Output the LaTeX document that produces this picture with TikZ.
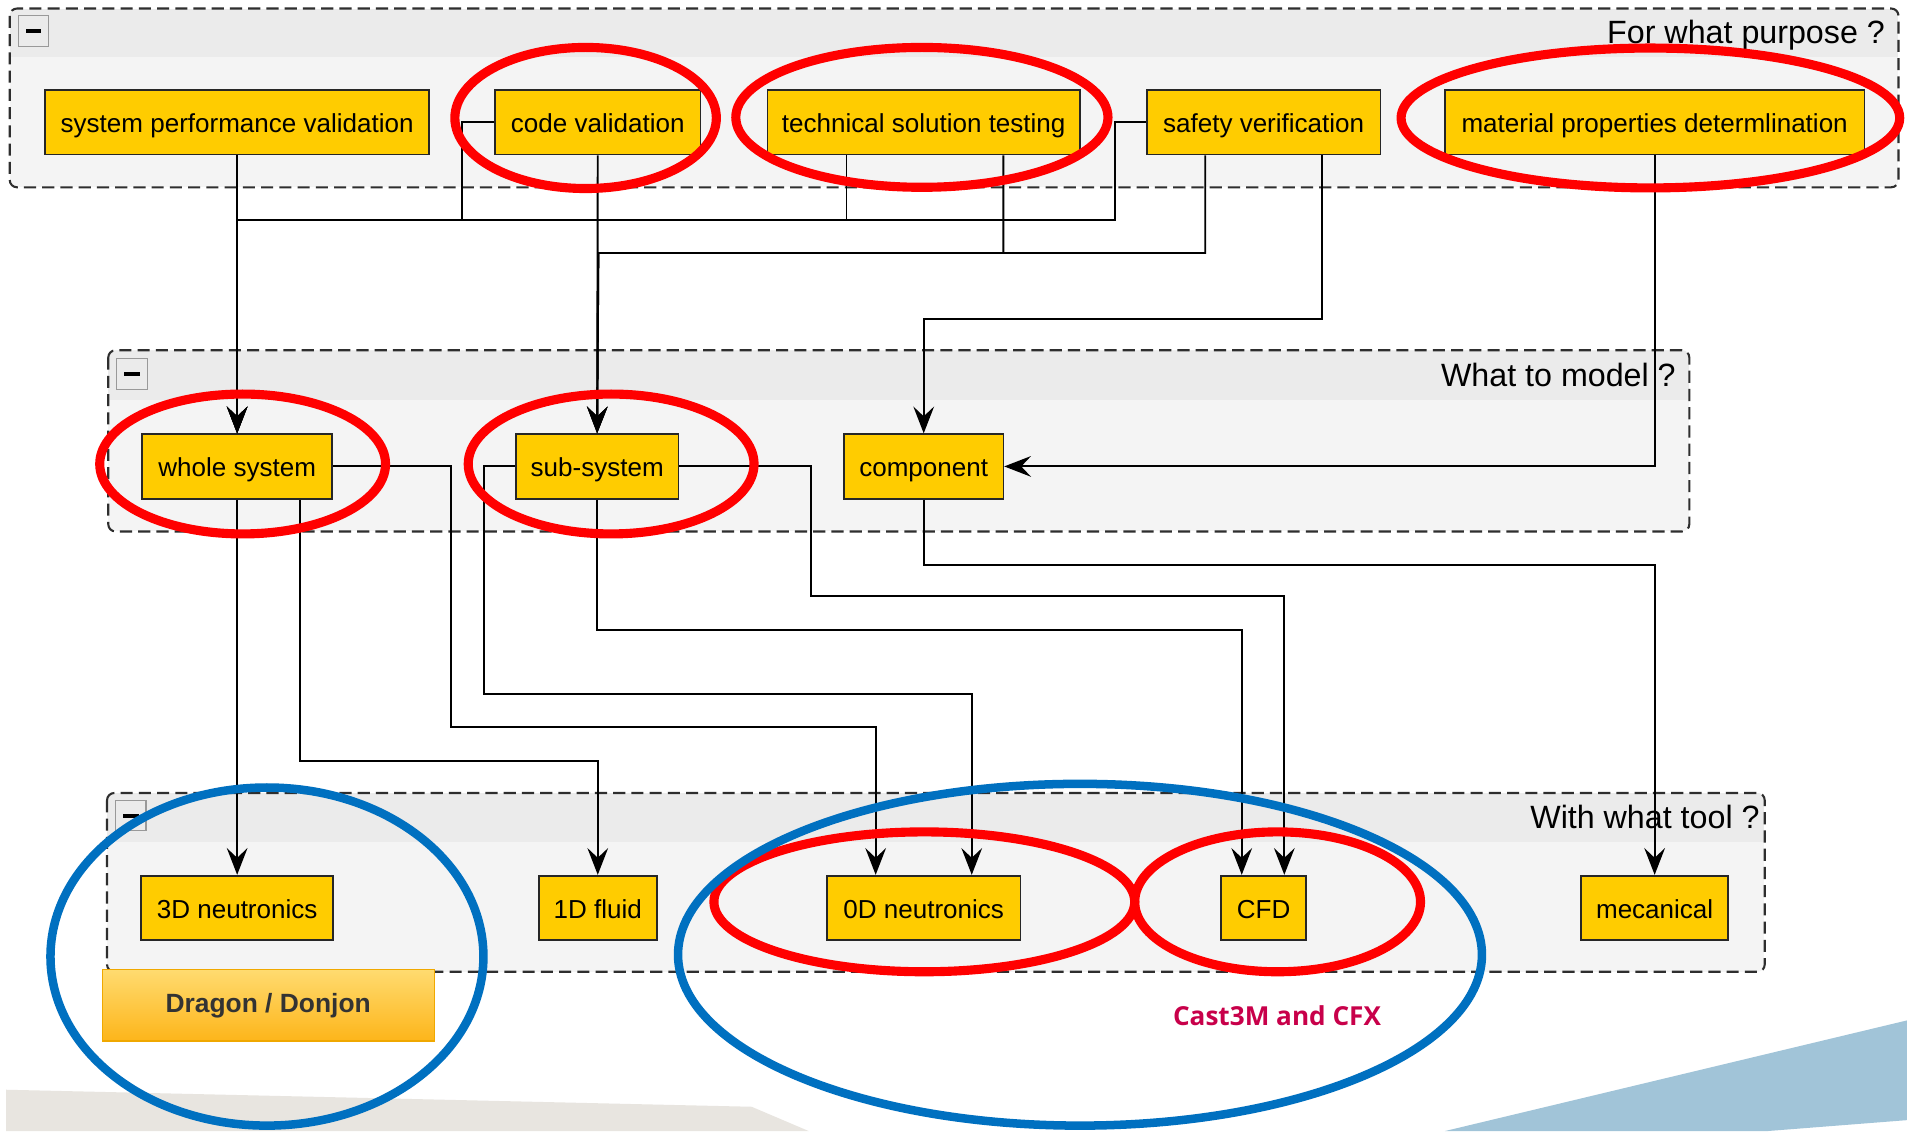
\documentclass[tikz,border=0pt]{standalone}
\usepackage{fontspec}
\setmainfont{Liberation Sans}
\newfontfamily\notefont{Open Sans}
\usetikzlibrary{arrows.meta,calc}

\definecolor{boxyellow}{HTML}{FFCC00}
\definecolor{bodygray}{HTML}{F4F4F4}
\definecolor{headgray}{HTML}{EBEBEB}
\definecolor{framegray}{HTML}{2E2E2E}
\definecolor{ringred}{HTML}{FF0000}
\definecolor{ringblue}{HTML}{0070C0}
\definecolor{castred}{HTML}{C8004A}
\definecolor{sandbg}{HTML}{E8E5E0}
\definecolor{skybg}{HTML}{A1C4D8}
\definecolor{dragontop}{HTML}{FFDB70}
\definecolor{dragonbot}{HTML}{FDB51A}
\definecolor{dragonline}{HTML}{F0A800}
\definecolor{dragontext}{HTML}{333333}

% container with a header band and a dashed rounded border
\newcommand\grpframe[5]{%
  \begin{scope}
    \clip[rounded corners=6pt] (#1,#2) rectangle (#3,#4);
    \fill[bodygray] (#1,#2) rectangle (#3,#4);
    \fill[headgray] (#1,#2) rectangle (#3,#5);
  \end{scope}
  \draw[grpborder] (#1,#2) rectangle (#3,#4);}

% small collapse button in a container's corner
\newcommand\collapsebtn[2]{%
  \draw[draw=black!40, fill=white!92!black, line width=1pt] (#1,#2) rectangle ++(25,25);
  \fill[black] ($(#1,#2)+(6,11)$) rectangle ++(13,3.5);}

\begin{document}
\begin{tikzpicture}[x=1pt,y=-1pt,
  grpborder/.style={draw=framegray, line width=1.7pt, dash pattern=on 10pt off 5pt, rounded corners=6pt},
  grptitle/.style={anchor=base east, inner sep=0pt, font=\fontsize{26.5}{30}\selectfont},
  box/.style={draw=black!85, fill=boxyellow, line width=1.4pt, minimum height=53pt, inner sep=0pt,
              text height=21pt, text depth=4pt, font=\fontsize{21.4}{25}\selectfont},
  arr/.style={draw=black, line width=1.6pt, -{Stealth[length=22pt,width=17pt,inset=8pt]}},
  redring/.style={draw=ringred, line width=7.5pt},
  bluering/.style={draw=ringblue, line width=7pt}]

\useasboundingbox (0,0) rectangle (1568,930);
\fill[white] (0,0) rectangle (1568,930);

% background shapes along the bottom edge
\fill[sandbg] (5,896) -- (618,910) -- (665,930) -- (5,930) -- cycle;
\fill[skybg] (1188,930) -- (1568,839) -- (1568,921) -- (1453,930) -- cycle;

% the three containers
\grpframe{8}{7}{1561}{154}{47}
\grpframe{89}{288}{1389}{437}{329}
\grpframe{88}{652}{1451}{799}{692}
\collapsebtn{15}{13}
\collapsebtn{96}{295}
\collapsebtn{95}{658}
\node[grptitle] (tpurpose) at (1550,35.5) {For what purpose ?};
\node[grptitle] (tmodel) at (1378,318) {What to model ?};
\node[grptitle] (ttool) at (1447,681) {With what tool ?};

% purposes
\node[box, minimum width=316pt] (spv) at (195,100.5) {system performance validation};
\node[box, minimum width=169pt] (cv)  at (491.5,100.5) {code validation};
\node[box, minimum width=257pt] (tst) at (759.5,100.5) {technical solution testing};
\node[box, minimum width=192pt] (sv)  at (1039,100.5) {safety verification};
\node[box, minimum width=345pt] (mpd) at (1360.5,100.5) {material properties determlination};

% what is modelled
\node[box, minimum width=156pt] (ws)   at (195,383.5) {whole system};
\node[box, minimum width=134pt] (ss)   at (491,383.5) {sub-system};
\node[box, minimum width=131pt] (comp) at (759.5,383.5) {component};

% tools
\node[box, minimum width=158pt] (n3d) at (195,746.5) {3D neutronics};
\node[box, minimum width=97pt]  (n1d) at (491.5,746.5) {1D fluid};
\node[box, minimum width=159pt] (n0d) at (759.5,746.5) {0D neutronics};
\node[box, minimum width=70pt]  (cfd) at (1039,746.5) {CFD};
\node[box, minimum width=121pt] (mec) at (1360.5,746.5) {mecanical};

% bus junctions
\coordinate (jA) at (195,181);
\coordinate (jB) at (492,208);

% purpose -> model
\draw[arr] (spv.south) -- (ws.north);
\draw[arr] (cv.west) -| (380,181) -- (jA) -- (ws.north);
\draw[arr] ($(tst.south)+(-63.5,0)$) |- (jA) -- (ws.north);
\draw[arr] (sv.west) -| (917,181) -- (jA) -- (ws.north);
\draw[arr] (cv.south) -- (ss.north);
\draw[arr] ($(tst.south)+(65.5,0)$) |- (jB) -- (ss.north);
\draw[arr] ($(sv.south)+(-48,0)$) |- (jB) -- (ss.north);
\draw[arr] ($(sv.south)+(48,0)$) |- (760,262) -| (comp.north);
\draw[arr] (mpd.south) |- (comp.east);

% model -> tool
\draw[arr] (ws.south) -- (n3d.north);
\draw[arr] ($(ws.south)+(52,0)$) -- ++(0,215) -| (n1d.north);
\draw[arr] (ws.east) -| (371,598) -| ($(n0d.north)+(-39.5,0)$);
\draw[arr] (ss.west) -| (398,571) -| ($(n0d.north)+(39.5,0)$);
\draw[arr] (ss.south) -- ++(0,107) -| ($(cfd.north)+(-18,0)$);
\draw[arr] (ss.east) -| (667,490) -| ($(cfd.north)+(17,0)$);
\draw[arr] (comp.south) -- ++(0,54) -| (mec.north);

% software names
\node[draw=dragonline, line width=1pt, top color=dragontop, bottom color=dragonbot,
      minimum width=273pt, minimum height=59pt, inner sep=0pt, text=dragontext,
      text height=16pt, text depth=4pt,
      font=\bfseries\fontsize{21.7}{25}\selectfont] (dd) at (220.5,826.5) {Dragon / Donjon};
\node[text=castred, inner sep=0pt, font=\notefont\bfseries\fontsize{21.5}{26}\selectfont] (cast) at (1050,835) {Cast3M and CFX};

% highlight rings
\draw[redring] (481.5,97) ellipse [x radius=107.5, y radius=58];
\draw[redring] (758,96.5) ellipse [x radius=153, y radius=57.5];
\draw[redring] (1357,97) ellipse [x radius=205, y radius=57.5];
\draw[redring] (199.5,381.5) ellipse [x radius=117.5, y radius=57.5];
\draw[redring] (502.5,381.5) ellipse [x radius=117.5, y radius=57.5];
\draw[redring] (760,741.5) ellipse [x radius=173, y radius=57.5];
\draw[redring] (1050.5,741.5) ellipse [x radius=117.5, y radius=57.5];
\draw[bluering] (219.5,786.5) ellipse [x radius=178, y radius=139];
\draw[bluering] (888,785) ellipse [x radius=330.5, y radius=140.5];

\end{tikzpicture}
\end{document}
